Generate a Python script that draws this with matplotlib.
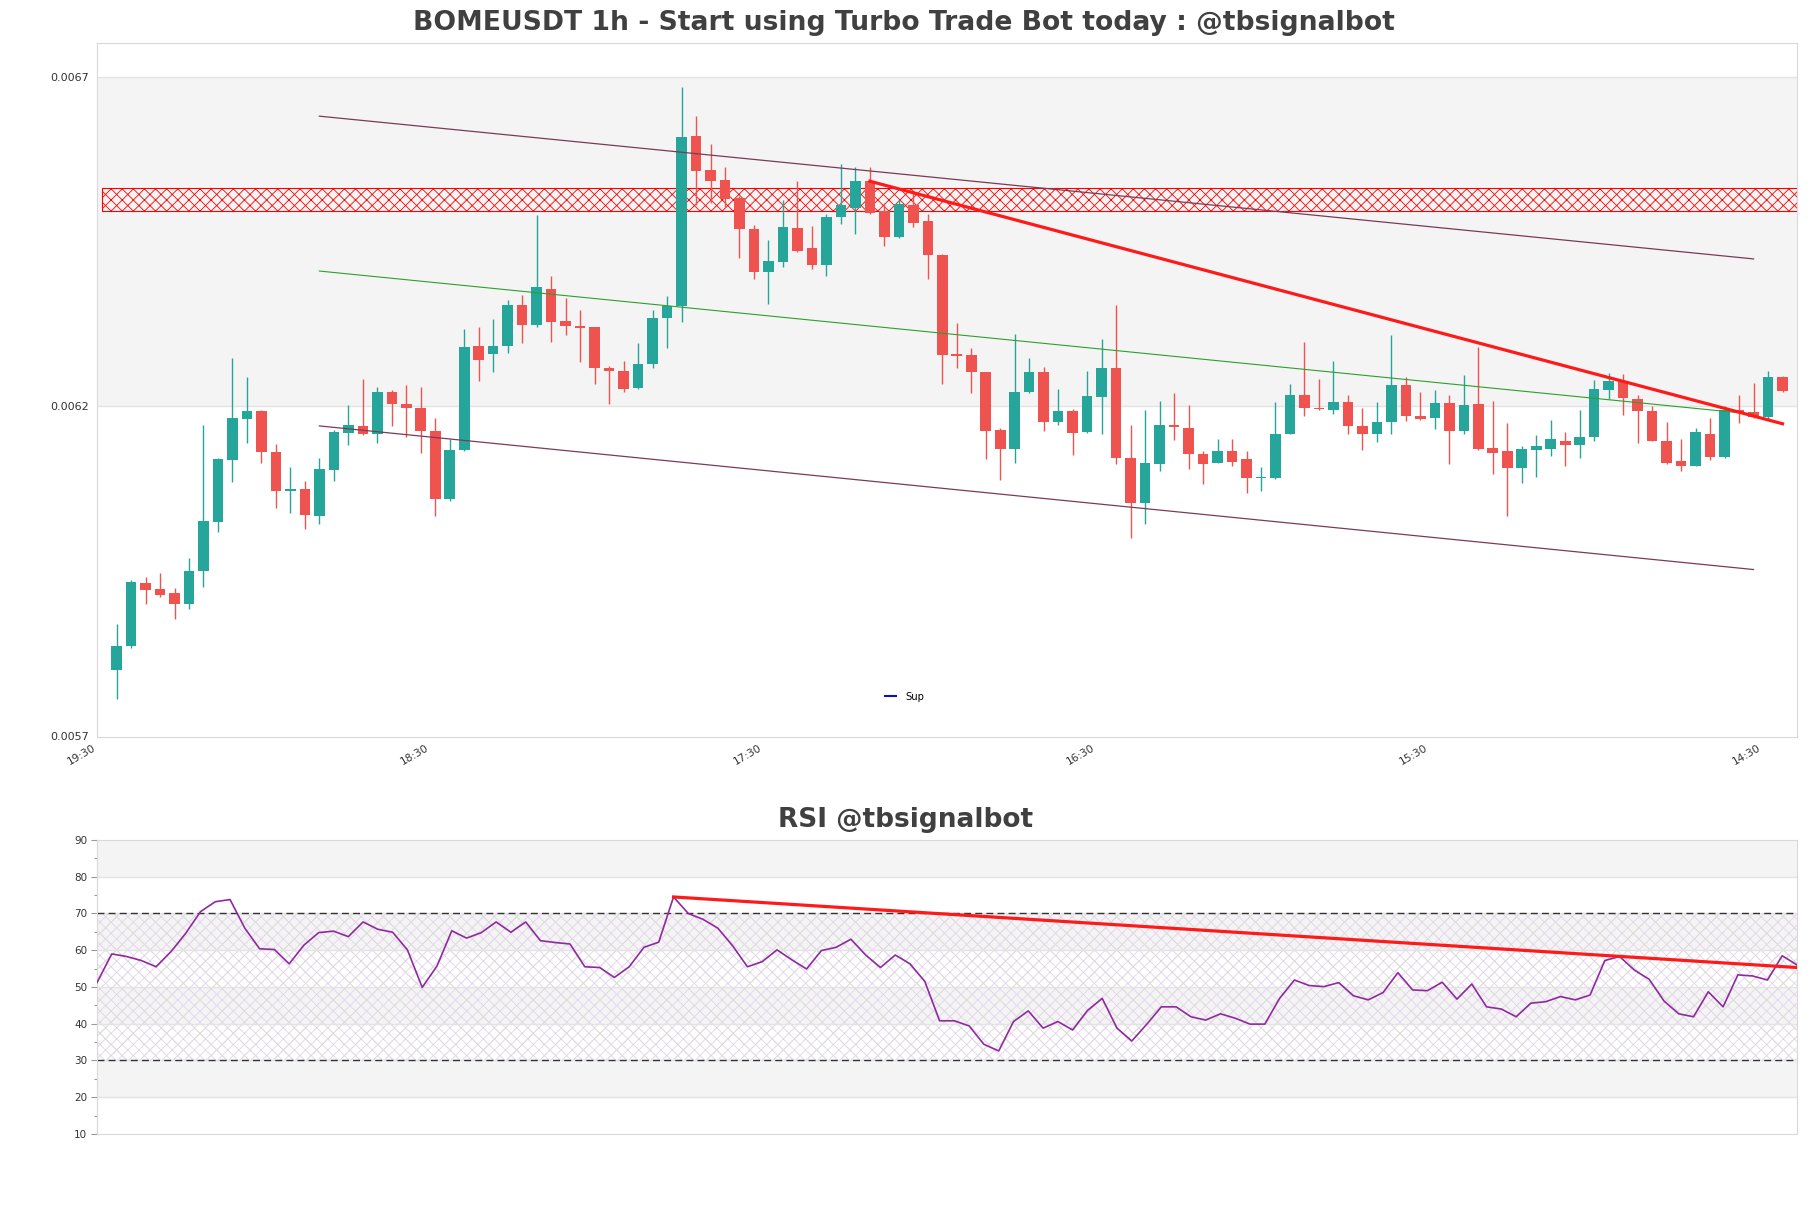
import numpy as np
import matplotlib
matplotlib.use("Agg")
import matplotlib.pyplot as plt
from matplotlib.ticker import FormatStrFormatter, MultipleLocator

# ---------------- data ----------------
open_ = [0.005800, 0.005836, 0.005932, 0.005923, 0.005917, 0.005900, 0.005951, 0.006025, 0.006119, 0.006181,
         0.006193, 0.006131, 0.006072, 0.006075, 0.006034, 0.006104, 0.006160, 0.006170, 0.006158, 0.006222,
         0.006204, 0.006198, 0.006163, 0.006060, 0.006134, 0.006292, 0.006279, 0.006292, 0.006354, 0.006323,
         0.006379, 0.006329, 0.006322, 0.006320, 0.006258, 0.006254, 0.006228, 0.006265, 0.006335, 0.006353,
         0.006611, 0.006559, 0.006543, 0.006517, 0.006470, 0.006404, 0.006419, 0.006471, 0.006440, 0.006414,
         0.006488, 0.006501, 0.006542, 0.006496, 0.006457, 0.006506, 0.006482, 0.006430, 0.006279, 0.006278,
         0.006252, 0.006164, 0.006135, 0.006222, 0.006252, 0.006177, 0.006193, 0.006161, 0.006215, 0.006258,
         0.006122, 0.006053, 0.006113, 0.006172, 0.006168, 0.006128, 0.006115, 0.006133, 0.006120, 0.006091,
         0.006092, 0.006158, 0.006218, 0.006198, 0.006194, 0.006207, 0.006171, 0.006159, 0.006176, 0.006233,
         0.006185, 0.006182, 0.006206, 0.006163, 0.006204, 0.006137, 0.006132, 0.006107, 0.006134, 0.006135,
         0.006148, 0.006142, 0.006153, 0.006225, 0.006238, 0.006212, 0.006193, 0.006148, 0.006117, 0.006110,
         0.006159, 0.006123, 0.006195, 0.006192, 0.006184, 0.006244]
high = [0.005870, 0.005937, 0.005942, 0.005948, 0.005924, 0.005970, 0.006172, 0.006122, 0.006273, 0.006244,
        0.006194, 0.006143, 0.006108, 0.006087, 0.006122, 0.006164, 0.006203, 0.006241, 0.006229, 0.006225,
        0.006232, 0.006229, 0.006183, 0.006151, 0.006317, 0.006320, 0.006332, 0.006362, 0.006369, 0.006490,
        0.006398, 0.006364, 0.006346, 0.006321, 0.006262, 0.006269, 0.006296, 0.006347, 0.006367, 0.006685,
        0.006641, 0.006599, 0.006563, 0.006520, 0.006476, 0.006452, 0.006513, 0.006542, 0.006474, 0.006492,
        0.006568, 0.006563, 0.006563, 0.006509, 0.006515, 0.006524, 0.006492, 0.006432, 0.006327, 0.006288,
        0.006252, 0.006167, 0.006310, 0.006274, 0.006260, 0.006227, 0.006196, 0.006254, 0.006302, 0.006354,
        0.006172, 0.006194, 0.006208, 0.006220, 0.006203, 0.006133, 0.006151, 0.006151, 0.006133, 0.006108,
        0.006207, 0.006234, 0.006298, 0.006242, 0.006269, 0.006218, 0.006198, 0.006207, 0.006308, 0.006244,
        0.006222, 0.006225, 0.006218, 0.006248, 0.006290, 0.006208, 0.006175, 0.006140, 0.006156, 0.006179,
        0.006161, 0.006194, 0.006240, 0.006251, 0.006250, 0.006218, 0.006200, 0.006176, 0.006150, 0.006168,
        0.006183, 0.006200, 0.006217, 0.006236, 0.006254, 0.006246]
low = [0.005756, 0.005834, 0.005900, 0.005911, 0.005877, 0.005892, 0.005926, 0.006010, 0.006085, 0.006145,
       0.006115, 0.006046, 0.006039, 0.006014, 0.006022, 0.006087, 0.006141, 0.006157, 0.006145, 0.006171,
       0.006154, 0.006130, 0.006034, 0.006056, 0.006133, 0.006239, 0.006252, 0.006281, 0.006296, 0.006321,
       0.006298, 0.006308, 0.006267, 0.006234, 0.006204, 0.006222, 0.006227, 0.006258, 0.006289, 0.006328,
       0.006506, 0.006509, 0.006503, 0.006425, 0.006394, 0.006356, 0.006411, 0.006435, 0.006409, 0.006398,
       0.006477, 0.006461, 0.006492, 0.006443, 0.006456, 0.006472, 0.006394, 0.006234, 0.006259, 0.006220,
       0.006120, 0.006089, 0.006114, 0.006221, 0.006163, 0.006172, 0.006127, 0.006160, 0.006159, 0.006112,
       0.006001, 0.006022, 0.006102, 0.006149, 0.006105, 0.006083, 0.006114, 0.006110, 0.006068, 0.006071,
       0.006090, 0.006158, 0.006186, 0.006195, 0.006189, 0.006159, 0.006134, 0.006146, 0.006158, 0.006178,
       0.006179, 0.006166, 0.006113, 0.006158, 0.006134, 0.006097, 0.006034, 0.006084, 0.006093, 0.006125,
       0.006110, 0.006122, 0.006147, 0.006211, 0.006187, 0.006144, 0.006147, 0.006113, 0.006102, 0.006109,
       0.006119, 0.006122, 0.006175, 0.006183, 0.006180, 0.006222]
close = [0.005836, 0.005933, 0.005922, 0.005914, 0.005900, 0.005951, 0.006026, 0.006120, 0.006182, 0.006193,
         0.006131, 0.006072, 0.006075, 0.006036, 0.006105, 0.006162, 0.006172, 0.006158, 0.006222, 0.006204,
         0.006198, 0.006163, 0.006060, 0.006134, 0.006291, 0.006270, 0.006292, 0.006354, 0.006323, 0.006382,
         0.006328, 0.006322, 0.006319, 0.006258, 0.006254, 0.006227, 0.006265, 0.006335, 0.006353, 0.006609,
         0.006558, 0.006542, 0.006515, 0.006469, 0.006404, 0.006420, 0.006473, 0.006436, 0.006414, 0.006488,
         0.006505, 0.006542, 0.006494, 0.006457, 0.006507, 0.006479, 0.006430, 0.006278, 0.006277, 0.006252,
         0.006163, 0.006135, 0.006222, 0.006252, 0.006177, 0.006193, 0.006160, 0.006216, 0.006259, 0.006122,
         0.006053, 0.006114, 0.006172, 0.006169, 0.006128, 0.006113, 0.006133, 0.006116, 0.006091, 0.006092,
         0.006158, 0.006218, 0.006198, 0.006196, 0.006207, 0.006171, 0.006159, 0.006177, 0.006232, 0.006185,
         0.006181, 0.006206, 0.006163, 0.006202, 0.006135, 0.006129, 0.006107, 0.006135, 0.006140, 0.006150,
         0.006141, 0.006153, 0.006227, 0.006238, 0.006213, 0.006193, 0.006148, 0.006114, 0.006110, 0.006161,
         0.006123, 0.006195, 0.006191, 0.006184, 0.006244, 0.006223]

rsi = [51.2, 59.0, 58.3, 57.2, 55.5, 59.6, 64.6, 70.5, 73.2, 73.8,
       66.0, 60.4, 60.2, 56.3, 61.4, 64.8, 65.2, 63.7, 67.7, 65.7,
       64.9, 60.1, 49.9, 55.7, 65.3, 63.3, 64.8, 67.7, 64.9, 67.7,
       62.6, 62.1, 61.7, 55.5, 55.3, 52.6, 55.5, 60.8, 62.2, 74.5,
       70.0, 68.4, 66.0, 61.2, 55.5, 56.9, 60.1, 57.4, 54.9, 59.9,
       60.8, 63.0, 58.7, 55.3, 58.7, 56.3, 51.5, 40.8, 40.8, 39.4,
       34.4, 32.6, 40.6, 43.5, 38.8, 40.6, 38.3, 43.6, 46.9, 38.8,
       35.3, 39.8, 44.6, 44.6, 41.9, 41.0, 42.7, 41.5, 39.9, 39.9,
       46.9, 51.9, 50.4, 50.1, 51.2, 47.6, 46.5, 48.5, 53.9, 49.2,
       49.0, 51.3, 46.7, 50.8, 44.6, 44.0, 41.9, 45.6, 46.0, 47.4,
       46.5, 47.8, 57.2, 58.3, 54.6, 52.1, 46.2, 42.7, 41.9, 48.7,
       44.6, 53.3, 53.0, 51.9, 58.5, 56.0]

tick_labels = ["19:30", "18:30", "17:30", "16:30", "15:30", "14:30"]

# channel / trend lines: (start index, end index) and (start value, end value)
channel_idx = [14, 113]
channel_upper = [0.0066405, 0.0064239]
channel_mid = [0.0064055, 0.0061883]
channel_lower = [0.0061705, 0.0059526]
resist_idx = [52, 115]
resist_val = [0.0065418, 0.0061738]
rsi_trend_idx = [39, 115]
rsi_trend_val = [74.5, 55.3]
zone = [0.006497, 0.006531]

# ---------------- style ----------------
UP = "#26a69a"
DOWN = "#ef5350"
GRID = "#e3e3e3"
BAND = "#f4f4f4"
TXT = "#404040"
plt.rcParams["font.family"] = ["DejaVu Sans"]
plt.rcParams["hatch.linewidth"] = 0.6

fig = plt.figure(figsize=(18.11, 12.08), dpi=100)
ax = fig.add_axes([0.05356, 0.3899, 0.93871, 0.5745])
ax2 = fig.add_axes([0.05356, 0.06126, 0.93871, 0.24338])

n = len(close)
x = np.arange(n)
o = np.array(open_); c = np.array(close); h = np.array(high); l = np.array(low)
cols = np.where(c >= o, UP, DOWN)

# main chart bands
ax.set_ylim(0.0056985, 0.0067515)
ax.set_xlim(-1, n)
ax.axhspan(0.0062, 0.0067, color=BAND, zorder=0, lw=0)
for yv in (0.0062, 0.0067):
    ax.axhline(yv, color=GRID, lw=1, zorder=0.5)

# hatched resistance zone
ax.fill_between([-1, n], zone[0], zone[1], facecolor="none", edgecolor="#ff0000",
                hatch="xxx", lw=0.8, zorder=1)

# candles
ax.vlines(x, l, h, colors=cols, lw=1.0, zorder=2)
body = np.maximum(np.abs(c - o), 0.0000015)
ax.bar(x, body, bottom=np.minimum(o, c), width=0.73, color=cols, lw=0, zorder=3)

# channel lines
ax.plot(channel_idx, channel_upper, color="#7a3b58", lw=0.9, zorder=4)
ax.plot(channel_idx, channel_lower, color="#7a3b58", lw=0.9, zorder=4)
ax.plot(channel_idx, channel_mid, color="#2ca02c", lw=0.8, zorder=4)
ax.plot(resist_idx, resist_val, color="#ff1a1a", lw=2.3, zorder=5)

# legend
ax.plot([], [], color="#1010b0", lw=1.5, label="Sup")
ax.legend(loc="center", bbox_to_anchor=(0.475, 0.058), frameon=False, fontsize=7.2,
          handlelength=1.1, handletextpad=0.9)

ax.set_yticks([0.0057, 0.0062, 0.0067])
ax.yaxis.set_major_formatter(FormatStrFormatter("%.4f"))
ax.set_xticks([-1.35 + 23 * k for k in range(len(tick_labels))])
ax.set_xticklabels(tick_labels, rotation=30, ha="right")
ax.tick_params(axis="y", length=0, labelsize=8, colors="#333333", pad=6)
ax.tick_params(axis="x", length=0, labelsize=7.7, colors="#333333", pad=4)
for sp in ax.spines.values():
    sp.set_color("#d9d9d9")

# RSI panel
ax2.set_xlim(0, n - 1)
ax2.set_ylim(10, 90)
for lo_, hi_ in [(20, 30), (40, 50), (60, 70), (80, 90)]:
    ax2.axhspan(lo_, hi_, color=BAND, lw=0, zorder=0)
ax2.fill_between([0, n - 1], 30, 70, facecolor="none", edgecolor="#e3d3ea", hatch="xxx", lw=0, zorder=0.6)
ax2.fill_between([0, n - 1], 30, 70, facecolor="none", edgecolor="#dddddd", hatch="x", lw=0, zorder=0.6)
for yv in range(20, 90, 10):
    ax2.axhline(yv, color=GRID, lw=1, zorder=0.8)
ax2.axhline(70, color="#333333", lw=1, ls=(0, (5, 3)), zorder=1)
ax2.axhline(30, color="#333333", lw=1, ls=(0, (5, 3)), zorder=1)
ax2.plot(x, rsi, color="#8e2a9e", lw=1.2, zorder=3)
ax2.plot(rsi_trend_idx, rsi_trend_val, color="#ff1a1a", lw=2.3, zorder=4)
ax2.yaxis.set_major_locator(MultipleLocator(10))
ax2.yaxis.set_minor_locator(MultipleLocator(5))
ax2.set_xticks([])
ax2.tick_params(axis="y", which="major", length=4, width=0.8, color="#999999",
                labelsize=7.5, labelcolor="#333333", pad=3)
ax2.tick_params(axis="y", which="minor", length=2.5, width=0.8, color="#999999")
for sp in ax2.spines.values():
    sp.set_color("#d9d9d9")

fig.text(0.4993, 0.981, "BOMEUSDT 1h - Start using Turbo Trade Bot today : @tbsignalbot",
         ha="center", va="center", fontsize=19.2, fontweight="bold", color=TXT)
fig.text(0.5003, 0.3212, "RSI @tbsignalbot", ha="center", va="center",
         fontsize=19, fontweight="bold", color=TXT)

fig.savefig("out.png", dpi=100)
